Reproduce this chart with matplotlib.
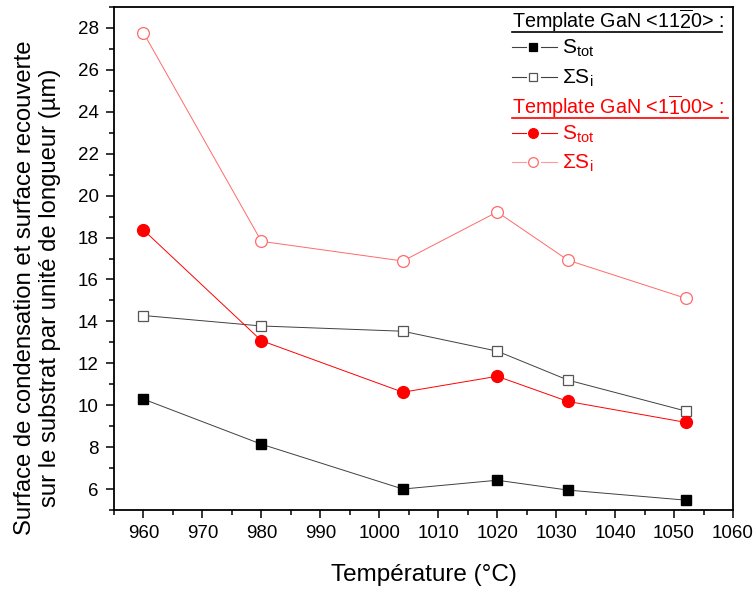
import matplotlib
matplotlib.use("Agg")
import matplotlib.pyplot as plt
from matplotlib.lines import Line2D
from matplotlib.ticker import MultipleLocator

plt.rcParams['font.family'] = ['Liberation Sans', 'DejaVu Sans']
plt.rcParams['mathtext.fontset'] = 'custom'
plt.rcParams['mathtext.rm'] = 'Liberation Sans'
plt.rcParams['mathtext.it'] = 'Liberation Sans'

# Data
temp = [960, 980, 1004, 1020, 1032, 1052]
s_tot_1120 = [10.29, 8.14, 6.0, 6.42, 5.95, 5.47]
sum_si_1120 = [14.28, 13.78, 13.53, 12.58, 11.2, 9.72]
s_tot_1100 = [18.36, 13.08, 10.62, 11.38, 10.18, 9.18]
sum_si_1100 = [27.77, 17.82, 16.88, 19.22, 16.92, 15.1]

W, H = 755, 590
fig = plt.figure(figsize=(W / 100, H / 100), dpi=100)
ax = fig.add_axes([114 / W, 1 - 510 / H, (733 - 114) / W, (510 - 7) / H])

red = '#ff0000'
pink = '#ff6a6a'

ax.plot(temp, s_tot_1120, color='#404040', lw=0.7, marker='s', ms=7,
        mfc='black', mec='black')
ax.plot(temp, sum_si_1120, color='#404040', lw=0.7, marker='s', ms=7.5,
        mfc='white', mec='#555555', mew=0.9)
ax.plot(temp, s_tot_1100, color=red, lw=0.7, marker='o', ms=8.5,
        mfc=red, mec=red)
ax.plot(temp, sum_si_1100, color=pink, lw=0.7, marker='o', ms=8.5,
        mfc='white', mec=pink, mew=0.9)

ax.set_xlim(955, 1060)
ax.set_ylim(5, 29)
ax.xaxis.set_major_locator(MultipleLocator(10))
ax.xaxis.set_minor_locator(MultipleLocator(5))
ax.yaxis.set_major_locator(MultipleLocator(2))
ax.yaxis.set_minor_locator(MultipleLocator(1))
ax.set_xticks(range(960, 1061, 10))
ax.set_yticks(range(6, 29, 2))
ax.tick_params(which='major', direction='out', length=6, width=1.1,
               labelsize=13.5, pad=5)
ax.tick_params(which='minor', direction='out', length=3.5, width=1.1)
for s in ax.spines.values():
    s.set_linewidth(1.3)

ax.set_xlabel('Température (°C)', fontsize=17.5, labelpad=16)
ax.set_ylabel('Surface de condensation et surface recouverte\n'
              'sur le substrat par unité de longueur (µm)', fontsize=17.2,
              linespacing=1.2)
ax.yaxis.set_label_coords((61 - 114) / 619, (510 - 288) / 503)


# hand-made legend (pixel positions in the figure)
def fx(px):
    return px / W


def fy(py):
    return 1 - py / H


def legend_row(py, marker, ms, mfc, mec, lc, label, tc):
    for x0, x1 in ((512, 526), (541, 557)):
        fig.add_artist(Line2D([fx(x0), fx(x1)], [fy(py), fy(py)], color=lc, lw=0.8))
    fig.add_artist(Line2D([fx(533)], [fy(py)], marker=marker, ms=ms, mfc=mfc,
                          mec=mec, mew=0.9, lw=0))
    fig.text(fx(562), fy(py + 7), label, color=tc, fontsize=15, va='baseline')


def legend_title(py, text, color, x_end):
    fig.text(fx(512), fy(py), text, color=color, fontsize=14.2, va='baseline')
    fig.add_artist(Line2D([fx(512), fx(x_end)], [fy(py + 4), fy(py + 4)],
                          color=color, lw=1.2))


legend_title(28, r'Template GaN <11$\overline{\mathrm{2}}$0> :', 'black', 722)
legend_row(47, 's', 6, 'black', 'black', '#404040', r'S$_{\mathrm{tot}}$', 'black')
legend_row(77, 's', 6, 'white', '#555555', '#404040', r'$\Sigma$S$_{\mathrm{i}}$', 'black')
legend_title(114, r'Template GaN <1$\overline{\mathrm{1}}$00> :', red, 728)
legend_row(133, 'o', 7, red, red, red, r'S$_{\mathrm{tot}}$', red)
legend_row(162, 'o', 7, 'white', pink, '#ff9a9a', r'$\Sigma$S$_{\mathrm{i}}$', red)

fig.savefig('out.png', dpi=100)
